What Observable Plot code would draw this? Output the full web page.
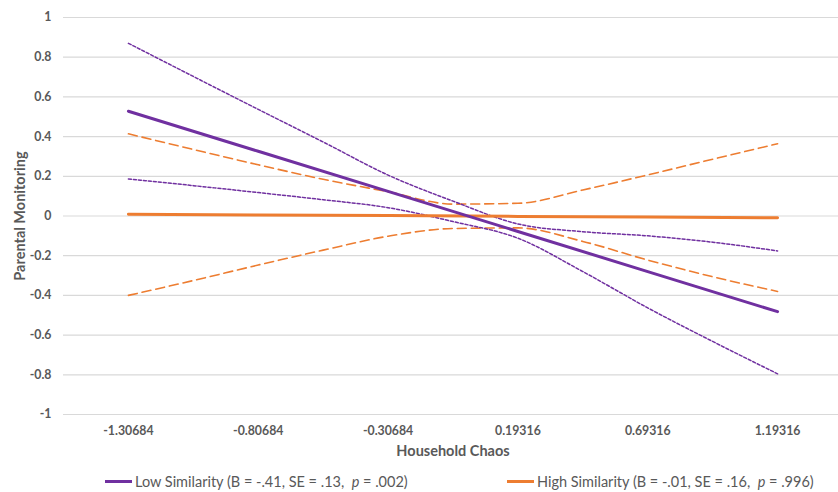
<!DOCTYPE html>
<html>
<head>
<meta charset="utf-8">
<script src="https://cdn.jsdelivr.net/npm/d3@7"></script>
<script src="https://cdn.jsdelivr.net/npm/@observablehq/plot@0.6"></script>
<style>
  html, body { margin: 0; padding: 0; background: #fff; }
  #wrap { width: 838px; font-family: Lato, "Liberation Sans", sans-serif; color: #595959; }
  #legend { position: relative; width: 838px; height: 22px; font-size: 14.5px; }
  .item { position: absolute; top: 3px; white-space: pre; display: flex; align-items: center; }
  .sw { display: inline-block; width: 27px; height: 3px; margin-right: 3px; }
  #chart g[aria-label="y-axis tick label"], #chart g[aria-label="x-axis tick label"] {
    font-size: 12.3px !important; font-weight: bold !important; font-family: Lato, "Liberation Sans", sans-serif;
  }
  #chart g[aria-label="text"] { font-size: 14.5px !important; font-weight: bold !important; }
</style>
</head>
<body>
<div id="wrap">
  <div id="chart"></div>
  <div id="legend"></div>
</div>
<script>
// Tick labels
const xTicks = [-1.30684, -0.80684, -0.30684, 0.19316, 0.69316, 1.19316];
const yTicks = [-1, -0.8, -0.6, -0.4, -0.2, 0, 0.2, 0.4, 0.6, 0.8, 1];

// Main simple slopes (at tick positions)
const lowMain  = [0.528, 0.326, 0.124, -0.078, -0.280, -0.482];
const highMain = [0.009, 0.005, 0.002, -0.002, -0.005, -0.009];

// Confidence band x positions
const ciX = [-1.30684, -1.05684, -0.80684, -0.55684, -0.30684, -0.05684, 0.19316, 0.44316, 0.69316, 0.94316, 1.19316];
const lowUpper  = [0.870, 0.703, 0.537, 0.373, 0.206, 0.075, -0.040, -0.079, -0.100, -0.132, -0.176];
const lowLower  = [0.187, 0.153, 0.118, 0.082, 0.042, -0.028, -0.112, -0.280, -0.463, -0.632, -0.795];
const highUpper = [0.414, 0.335, 0.258, 0.185, 0.122, 0.060, 0.064, 0.131, 0.207, 0.286, 0.364];
const highLower = [-0.400, -0.325, -0.247, -0.172, -0.102, -0.063, -0.060, -0.128, -0.222, -0.306, -0.380];

const legendLabels = [
  {name: "Low Similarity", stats: "(B = -.41, SE = .13,  ", p: "p", tail: " = .002)"},
  {name: "High Similarity", stats: "(B = -.01, SE = .16,  ", p: "p", tail: " = .996)"}
];

const PURPLE = "#7030A0";
const ORANGE = "#ED7D31";

const pts = (xs, ys) => xs.map((x, i) => ({x, y: ys[i]}));

const chart = Plot.plot({
  width: 838,
  height: 470,
  marginLeft: 63,
  marginRight: 0,
  marginTop: 17,
  marginBottom: 56,
  style: {fontFamily: "Lato, 'Liberation Sans', sans-serif", color: "#595959", background: "#fff"},
  x: {domain: [-1.55684, 1.44316], range: [63, 842]},
  y: {domain: [-1, 1]},
  marks: [
    Plot.gridY(yTicks, {stroke: "#d9d9d9", strokeOpacity: 1, strokeWidth: 1.2}),
    Plot.axisY(yTicks, {tickSize: 0, tickPadding: 12, fontSize: 12.3, fontWeight: "bold",
      tickFormat: d => String(+d.toFixed(1)), label: null}),
    Plot.axisX(xTicks, {tickSize: 0, tickPadding: 12, fontSize: 12.3, fontWeight: "bold",
      tickFormat: d => d.toFixed(5), label: null}),
    Plot.text(["Parental Monitoring"], {frameAnchor: "left", dx: -43, rotate: -90,
      textAnchor: "middle", lineAnchor: "middle",
      fontSize: 14.5, fontWeight: "bold", fill: "#595959"}),
    Plot.text(["Household Chaos"], {frameAnchor: "bottom", dy: 37, dx: 2,
      textAnchor: "middle", lineAnchor: "middle",
      fontSize: 14.5, fontWeight: "bold", fill: "#595959"}),
    Plot.line(pts(ciX, highUpper), {x: "x", y: "y", stroke: ORANGE, strokeWidth: 1.6, strokeDasharray: "9,5", curve: "monotone-x"}),
    Plot.line(pts(ciX, highLower), {x: "x", y: "y", stroke: ORANGE, strokeWidth: 1.6, strokeDasharray: "9,5", curve: "monotone-x"}),
    Plot.line(pts(ciX, lowUpper), {x: "x", y: "y", stroke: PURPLE, strokeWidth: 1.5, strokeDasharray: "3,2", curve: "monotone-x"}),
    Plot.line(pts(ciX, lowLower), {x: "x", y: "y", stroke: PURPLE, strokeWidth: 1.5, strokeDasharray: "3,2", curve: "monotone-x"}),
    Plot.line(pts(xTicks, highMain), {x: "x", y: "y", stroke: ORANGE, strokeWidth: 3}),
    Plot.line(pts(xTicks, lowMain), {x: "x", y: "y", stroke: PURPLE, strokeWidth: 3})
  ]
});
document.getElementById("chart").appendChild(chart);

const legend = document.getElementById("legend");
const lefts = [105, 507];
const colors = [PURPLE, ORANGE];
legendLabels.forEach((d, i) => {
  const item = document.createElement("div");
  item.className = "item";
  item.style.left = lefts[i] + "px";
  const sw = document.createElement("span");
  sw.className = "sw";
  sw.style.background = colors[i];
  item.appendChild(sw);
  const t = document.createElement("span");
  t.textContent = d.name + " " + d.stats;
  item.appendChild(t);
  const p = document.createElement("i");
  p.textContent = d.p;
  item.appendChild(p);
  const t2 = document.createElement("span");
  t2.textContent = d.tail;
  item.appendChild(t2);
  legend.appendChild(item);
});
</script>
</body>
</html>
